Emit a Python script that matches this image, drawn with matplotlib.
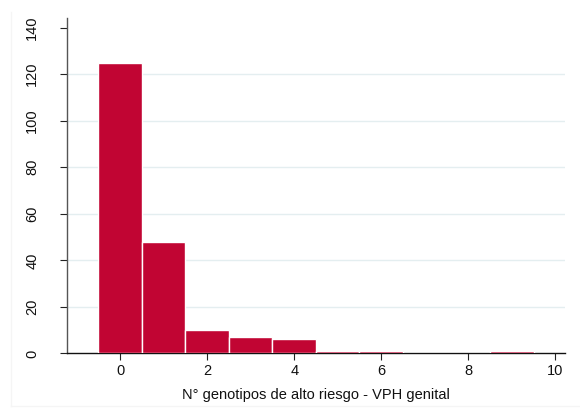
import matplotlib
matplotlib.use("Agg")
import matplotlib.pyplot as plt
from matplotlib.lines import Line2D

# Number of high-risk HPV genotypes and frequency of each count
genotypes = [0, 1, 2, 3, 4, 5, 6, 7, 8, 9]
counts = [125, 48, 10, 7, 6, 1, 1, 0, 0, 1]
xticks = [0, 2, 4, 6, 8, 10]
yticks = [0, 20, 40, 60, 80, 100, 120, 140]
xlabel = "N° genotipos de alto riesgo - VPH genital"

plt.rcParams['font.family'] = ['Liberation Sans', 'DejaVu Sans']

fig = plt.figure(figsize=(5.8, 4.09), dpi=100)
fig.patch.set_facecolor('white')
ax = fig.add_axes([0.1155, 0.136, 0.974 - 0.1155, 0.955 - 0.136])

ax.bar(genotypes, counts, width=1.0, color='#c10533', edgecolor='white',
       linewidth=1.0, zorder=3)

ax.set_xlim(-1.22, 10.22)
ax.set_ylim(0, 144)
ax.set_xticks(xticks)
ax.set_yticks(yticks)
ax.set_yticklabels([str(v) for v in yticks], rotation=90, va='center')
ax.tick_params(axis='both', labelsize=10.5, length=5, width=0.8, color='#222222',
               labelcolor='#111111')
ax.tick_params(axis='y', pad=15)
ax.tick_params(axis='x', pad=3)

for v in yticks[1:-1]:
    ax.axhline(v, color='#e4eef0', linewidth=1.0, zorder=1)

for s in ['top', 'right']:
    ax.spines[s].set_visible(False)
ax.spines['left'].set_color('#555555')
ax.spines['bottom'].set_color('#111111')
ax.spines['left'].set_linewidth(1.0)
ax.spines['bottom'].set_linewidth(1.0)

ax.set_xlabel(xlabel, fontsize=10.5, color='#111111', labelpad=7)

# faint outer frame
fig.add_artist(Line2D([11 / 580, 11 / 580], [1 - 12 / 409, 1 - 406 / 409],
                      transform=fig.transFigure, color='#f5f5f5', linewidth=1))
fig.add_artist(Line2D([11 / 580, 1.0], [1 - 406 / 409, 1 - 406 / 409],
                      transform=fig.transFigure, color='#f5f5f5', linewidth=1))

fig.savefig('out.png', dpi=100)
